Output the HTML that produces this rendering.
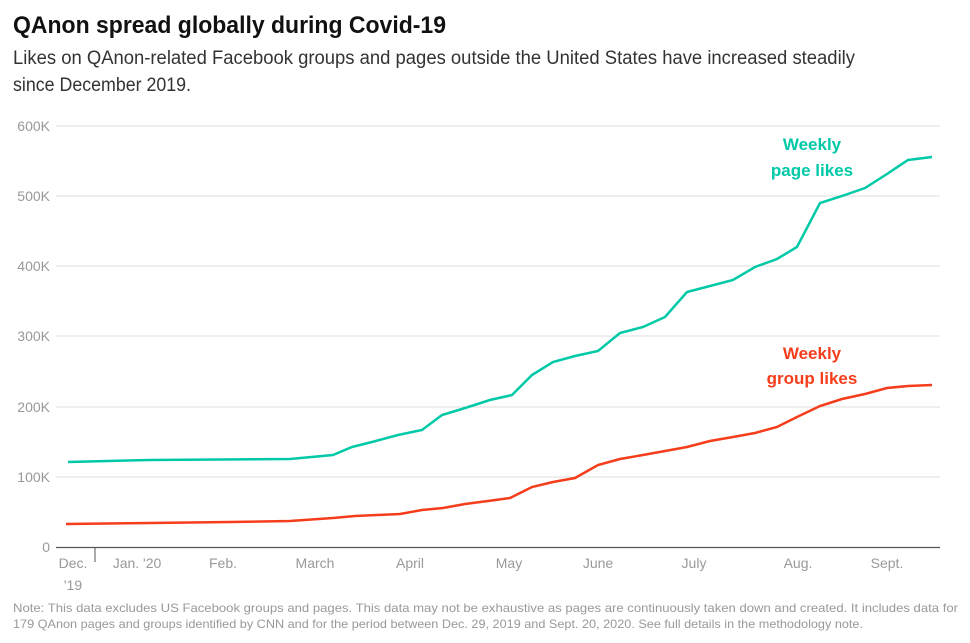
<!DOCTYPE html>
<html><head><style>
body{margin:0;background:#fff;}
svg text{font-family:"Liberation Sans",sans-serif;}
</style></head><body>
<svg width="970" height="638" viewBox="0 0 970 638" xmlns="http://www.w3.org/2000/svg">
<rect width="970" height="638" fill="#fff"/>
<text x="13" y="33" font-size="24" font-weight="bold" fill="#111" textLength="433" lengthAdjust="spacingAndGlyphs">QAnon spread globally during Covid-19</text>
<text x="13" y="64" font-size="19" fill="#333" textLength="842" lengthAdjust="spacingAndGlyphs">Likes on QAnon-related Facebook groups and pages outside the United States have increased steadily</text>
<text x="13" y="91" font-size="19" fill="#333" textLength="178" lengthAdjust="spacingAndGlyphs">since December 2019.</text>
<g stroke="#ddd" stroke-width="1">
<line x1="56" x2="940" y1="126" y2="126"/><line x1="56" x2="940" y1="196" y2="196"/>
<line x1="56" x2="940" y1="266" y2="266"/><line x1="56" x2="940" y1="336" y2="336"/>
<line x1="56" x2="940" y1="407" y2="407"/><line x1="56" x2="940" y1="477" y2="477"/>
</g>
<line x1="56" x2="940" y1="547.5" y2="547.5" stroke="#555" stroke-width="1.2"/>
<line x1="95" x2="95" y1="547" y2="562" stroke="#555" stroke-width="1"/>
<g font-size="14" fill="#999" text-anchor="end">
<text x="50" y="131">600K</text><text x="50" y="201">500K</text><text x="50" y="271">400K</text>
<text x="50" y="341">300K</text><text x="50" y="412">200K</text><text x="50" y="482">100K</text><text x="50" y="552">0</text>
</g>
<g font-size="14" fill="#999" text-anchor="middle">
<text x="73" y="568">Dec.</text><text x="73" y="590">'19</text>
<text x="137" y="568">Jan. '20</text><text x="223" y="568">Feb.</text><text x="315" y="568">March</text>
<text x="410" y="568">April</text><text x="509" y="568">May</text><text x="598" y="568">June</text>
<text x="694" y="568">July</text><text x="798" y="568">Aug.</text><text x="887" y="568">Sept.</text>
</g>
<polyline fill="none" stroke="#00c9a7" stroke-width="2.5" points="68,462 150,460 290,459 333,455 352,447 372,442 398,435 422,430 442,415 462,409 490,400 512,395 532,375 553,362 575,356 598,351 620,333 643,327 665,317 687,292 710,286 733,280 755,267 777,259 797,247 820,203 842,196 865,188 887,174 908,160 932,157"/>
<polyline fill="none" stroke="#f53d1c" stroke-width="2.5" points="66,524 150,523 230,522 290,521 333,518 355,516 377,515 400,514 422,510 443,508 465,504 488,501 510,498 532,487 553,482 575,478 598,465 620,459 643,455 665,451 687,447 710,441 733,437 755,433 777,427 797,417 820,406 842,399 865,394 887,388 908,386 932,385"/>
<g font-size="17" font-weight="bold" text-anchor="middle">
<text x="812" y="150" fill="#00c9a7">Weekly</text><text x="812" y="176" fill="#00c9a7">page likes</text>
<text x="812" y="359" fill="#f53d1c">Weekly</text><text x="812" y="384" fill="#f53d1c">group likes</text>
</g>
<text x="13" y="612" font-size="12" fill="#999" textLength="945" lengthAdjust="spacingAndGlyphs">Note: This data excludes US Facebook groups and pages. This data may not be exhaustive as pages are continuously taken down and created. It includes data for</text>
<text x="13" y="628" font-size="12" fill="#999" textLength="850" lengthAdjust="spacingAndGlyphs">179 QAnon pages and groups identified by CNN and for the period between Dec. 29, 2019 and Sept. 20, 2020. See full details in the methodology note.</text>
</svg>
</body></html>
